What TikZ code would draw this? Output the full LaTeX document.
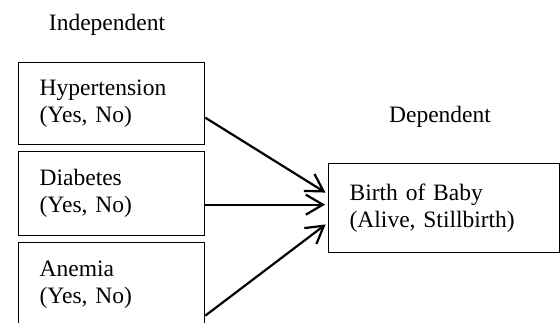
\documentclass[tikz,border=0pt]{standalone}
\usepackage{fontspec}
\setmainfont{Liberation Serif}
\usepackage{tikz}
\usetikzlibrary{arrows.meta, positioning}

\begin{document}
\begin{tikzpicture}[x=0.5pt, y=-0.5pt,
    every node/.style={font=\fontsize{11.75}{13.5}\selectfont},
    varbox/.style={draw, line width=0.65pt, anchor=north west, align=left,
      inner xsep=10.5pt, inner ysep=0pt, text width=72pt, minimum height=42pt},
    link/.style={line width=1.1pt, shorten >=1.5pt,
      -{Straight Barb[length=8.5pt, width=10pt, line width=1.1pt]}}]
  \clip (0,0) rectangle (560,322);
  \node[anchor=base] (indep) at (107,30) {Independent};
  \node[anchor=base] (dep) at (440,122) {Dependent};
  \node[varbox, minimum height=41pt] (hyper) at (18,62) {\strut Hypertension\\\strut (Yes, No)};
  \node[varbox] (diab) at (18,151) {\strut Diabetes\\\strut (Yes, No)};
  \node[varbox] (anem) at (18,242) {\strut Anemia\\\strut (Yes, No)};
  \node[varbox, text width=94.5pt, minimum height=44.5pt] (birth) at (328,163)
    {\strut Birth of Baby\\\strut (Alive, Stillbirth)};
  % arrows into the dependent variable
  \draw[link] ([yshift=-7pt]hyper.east) -- ([yshift=7pt]birth.west);
  \draw[link] ([yshift=-5.5pt]diab.east) -- ([yshift=1.75pt]birth.west);
  \draw[link] ([yshift=-15.5pt]anem.east) -- ([yshift=-7.25pt]birth.west);
\end{tikzpicture}
\end{document}
